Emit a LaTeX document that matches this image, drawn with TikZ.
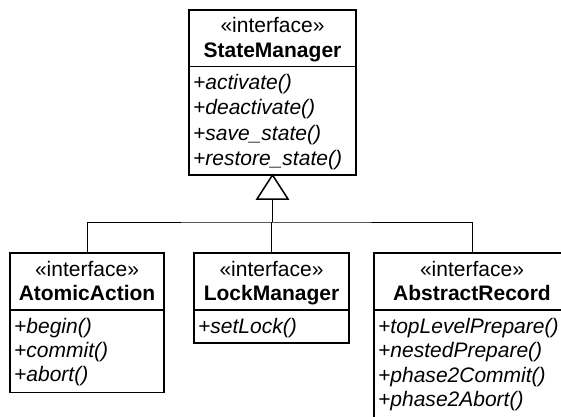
\documentclass[tikz,border=0pt]{standalone}
\usepackage{fontspec}
\setmainfont{Liberation Sans}
\usetikzlibrary{calc}
\begin{document}
\begin{tikzpicture}[x=1pt,y=-1pt,
  box/.style={draw, line width=1.5pt, anchor=north west, inner sep=0pt, outer sep=0pt},
  divider/.style={line width=1.5pt},
  conn/.style={line width=1pt},
  stem/.style={line width=1.8pt},
  tri/.style={draw, line width=1.5pt, fill=white, line join=miter},
  stereo/.style={anchor=base, inner sep=0pt, font=\fontsize{21}{25}\selectfont},
  cname/.style={anchor=base, inner sep=0pt, font=\fontsize{21}{25}\selectfont\bfseries},
  meth/.style={anchor=base west, inner sep=0pt, font=\fontsize{21}{25}\selectfont\itshape}
]
\useasboundingbox (0,0) rectangle (561,416);
\clip (0,0) rectangle (561,416);
\fill[white] (0,0) rectangle (561,416);

% StateManager
\node[box, minimum width=167pt, minimum height=165pt] (sm) at (189,10) {};
\draw[divider] (189,66.5) -- (356,66.5);
\node[stereo] (smst) at (272.5,32.5) {«interface»};
\node[cname] (smn) at (272.5,57.5) {StateManager};
\node[meth] (sm1) at (193,89) {+activate()};
\node[meth] (sm2) at (193,114.5) {+deactivate()};
\node[meth] (sm3) at (193,140) {+save\_state()};
\node[meth] (sm4) at (193,165) {+restore\_state()};

% AtomicAction
\node[box, minimum width=154pt, minimum height=139.5pt] (aa) at (10,253) {};
\draw[divider] (10,310) -- (164,310);
\node[stereo] (aast) at (87,276.5) {«interface»};
\node[cname] (aan) at (87,300.5) {AtomicAction};
\node[meth] (aa1) at (14,333.5) {+begin()};
\node[meth] (aa2) at (14,357.5) {+commit()};
\node[meth] (aa3) at (14,381.5) {+abort()};

% LockManager
\node[box, minimum width=155pt, minimum height=90pt] (lm) at (194,253) {};
\draw[divider] (194,310) -- (349,310);
\node[stereo] (lmst) at (271.5,276.5) {«interface»};
\node[cname] (lmn) at (271.5,300.5) {LockManager};
\node[meth] (lm1) at (198,333.5) {+setLock()};

% AbstractRecord
\node[box, minimum width=196pt, minimum height=166pt] (ar) at (374,253) {};
\draw[divider] (374,310) -- (570,310);
\node[stereo] (arst) at (472,276.5) {«interface»};
\node[cname] (arn) at (472,300.5) {AbstractRecord};
\node[meth] (ar1) at (378,333.5) {+topLevelPrepare()};
\node[meth] (ar2) at (378,357.5) {+nestedPrepare()};
\node[meth] (ar3) at (378,382) {+phase2Commit()};
\node[meth] (ar4) at (378,406) {+phase2Abort()};

% generalization connectors
\coordinate (tb) at ($(sm.south)+(0,24)$);
\coordinate (j) at (272.5,222);
\draw[conn] (aa.north) |- (j) -| (ar.north);
\draw[conn] (lm.north) -- (lm.north |- j);
\draw[stem] (tb) -- (j);
\draw[tri] (sm.south) -- ($(tb)+(-15.5,0)$) -- ($(tb)+(15.5,0)$) -- cycle;
\end{tikzpicture}
\end{document}
